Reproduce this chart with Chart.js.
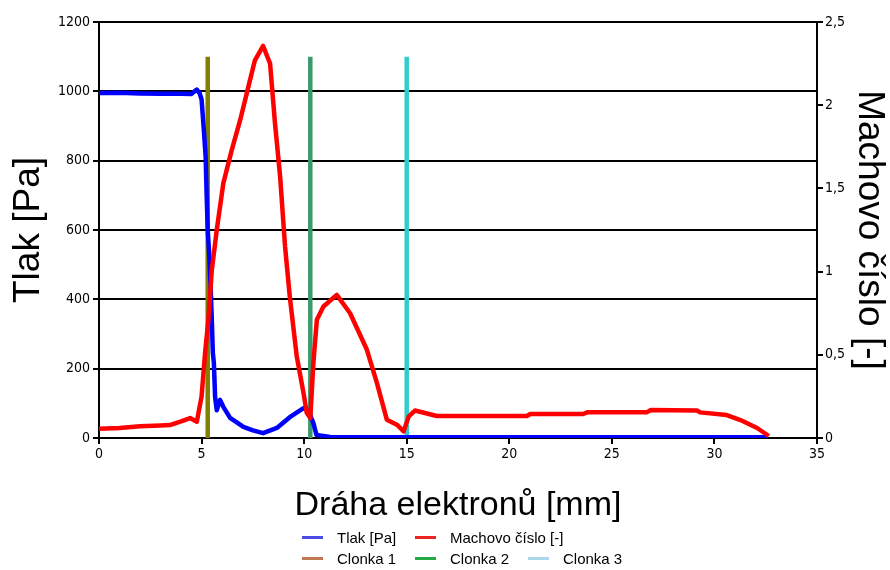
<!DOCTYPE html>
<html>
<head>
<meta charset="utf-8">
<script src="https://cdn.jsdelivr.net/npm/chart.js@4/dist/chart.umd.min.js"></script>
<style>
  body { margin: 0; background: #fff; }
  #wrap { position: relative; width: 890px; height: 570px; }
  #legend { position: absolute; left: 302px; top: 527px; font: 15px "Liberation Sans", Arial, sans-serif; color: #000; }
  #legend .row { display: flex; height: 21px; align-items: center; }
  #legend .item { display: flex; align-items: center; min-width: 113px; white-space: nowrap; }
  #legend .swatch { flex: 0 0 21px; height: 3px; margin-right: 14px; }
</style>
</head>
<body>
<div id="wrap">
  <canvas id="main" width="890" height="570"></canvas>
  <div id="legend"></div>
</div>
<script>
// pressure along the electron path [mm -> Pa]
const tlakX = [0, 1, 2, 3, 4, 4.5, 4.77, 4.9, 5.0, 5.1, 5.2, 5.25, 5.3, 5.38, 5.45, 5.5, 5.55, 5.6, 5.66, 5.74, 5.9, 6.06, 6.39, 7.04, 7.5, 8.0, 8.67, 9.3, 9.97, 10.2, 10.45, 10.6, 11.27, 15, 20, 25, 30, 32.6];
const tlakY = [995, 996, 994, 993, 993, 992, 1005, 995, 977, 897, 810, 695, 600, 522, 420, 340, 245, 216, 118, 80, 110, 90, 58, 32, 22, 14, 29, 60, 86, 80, 43, 9, 3, 2, 2, 2, 2, 2];

// Mach number along the same path
const machX = [0, 1, 2, 3, 3.46, 4.0, 4.44, 4.77, 5.0, 5.17, 5.33, 5.5, 5.74, 6.06, 6.47, 6.88, 7.28, 7.6, 8.0, 8.34, 8.58, 8.83, 9.07, 9.3, 9.64, 9.97, 10.13, 10.3, 10.45, 10.62, 10.94, 11.59, 12.24, 13.06, 13.55, 14.03, 14.52, 14.85, 15.1, 15.4, 16.47, 20.86, 21.02, 23.6, 23.8, 26.7, 26.9, 29.15, 29.3, 30.6, 31.27, 32.08, 32.65];
const machY = [0.055, 0.06, 0.07, 0.075, 0.078, 0.1, 0.12, 0.098, 0.25, 0.51, 0.71, 1.01, 1.25, 1.53, 1.73, 1.91, 2.11, 2.27, 2.356, 2.25, 1.89, 1.57, 1.15, 0.85, 0.49, 0.27, 0.15, 0.12, 0.45, 0.71, 0.79, 0.86, 0.75, 0.53, 0.33, 0.11, 0.08, 0.04, 0.13, 0.165, 0.132, 0.132, 0.144, 0.144, 0.154, 0.154, 0.168, 0.165, 0.154, 0.138, 0.108, 0.06, 0.012];

// aperture positions [mm] and marker height [Pa]
const clonkaNames = ['Clonka 1', 'Clonka 2', 'Clonka 3'];
const clonkaX = [5.3, 10.3, 15.0];
const clonkaTop = 1100;

const clonkaColors = ['#808000', '#3a9a6c', '#33cccc'];
const legendColors = ['#4b4be8', '#ee2424', '#c07850', '#22aa44', '#a8d8ea'];

const toPoints = (xs, ys) => xs.map((x, i) => ({ x, y: ys[i] }));

const datasets = [
  { label: 'Tlak [Pa]', data: toPoints(tlakX, tlakY), borderColor: '#0000ff', yAxisID: 'y', order: 1 },
  { label: 'Machovo číslo [-]', data: toPoints(machX, machY), borderColor: '#ff0000', yAxisID: 'y1', order: 0 },
];
clonkaNames.forEach((name, i) => {
  datasets.push({
    label: name,
    data: [{ x: clonkaX[i], y: 0 }, { x: clonkaX[i], y: clonkaTop }],
    borderColor: clonkaColors[i],
    yAxisID: 'y',
    order: 2,
  });
});

const tickFont = { family: '"Liberation Sans Narrow", "DejaVu Sans Condensed", "Arial Narrow", sans-serif', size: 14 };
const titleFont = size => ({ family: '"Liberation Sans", Arial, sans-serif', size, lineHeight: 1.1 });

const chart = new Chart(document.getElementById('main'), {
  type: 'line',
  data: { datasets },
  options: {
    responsive: false,
    animation: false,
    devicePixelRatio: 1,
    layout: { padding: { top: 22, left: 0, right: 0, bottom: 0 } },
    elements: {
      line: { borderWidth: 4.5, tension: 0, borderCapStyle: 'butt', borderJoinStyle: 'round' },
      point: { radius: 0 },
    },
    plugins: { legend: { display: false }, tooltip: { enabled: false } },
    scales: {
      x: {
        type: 'linear',
        min: 0, max: 35,
        ticks: { stepSize: 5, color: '#000', font: tickFont, padding: 2, maxRotation: 0, callback: v => String(v) },
        grid: { drawOnChartArea: false, color: '#000', tickLength: 6, lineWidth: 2 },
        border: { color: '#000', width: 2 },
        title: { display: true, text: 'Dráha elektronů [mm]', color: '#000', font: titleFont(34), padding: { top: 4, bottom: 46 } },
        afterFit: s => { s.height = 132; },
      },
      y: {
        position: 'left',
        min: 0, max: 1200,
        ticks: { stepSize: 200, color: '#000', font: tickFont, padding: 3, callback: v => String(v) },
        grid: { color: '#000', lineWidth: 2, tickLength: 6 },
        border: { color: '#000', width: 2 },
        title: { display: true, text: 'Tlak [Pa]', color: '#000', font: titleFont(37), padding: { top: 8, bottom: 0 } },
        afterFit: s => { s.width = 99; },
      },
      y1: {
        position: 'right',
        min: 0, max: 2.5,
        ticks: { stepSize: 0.5, color: '#000', font: tickFont, padding: 2,
          callback: v => String(v).replace('.', ',') },
        grid: { drawOnChartArea: false, color: '#000', lineWidth: 2, tickLength: 6 },
        border: { color: '#000', width: 2 },
        title: { display: true, text: 'Machovo číslo [-]', color: '#000', font: titleFont(37), padding: { top: 0, bottom: 0 } },
        afterFit: s => { s.width = 73; },
      },
    },
  },
});

// two-row legend below the plot, built from the dataset labels
const legendEl = document.getElementById('legend');
const rows = [[0, 1], [2, 3, 4]];
rows.forEach(idx => {
  const row = document.createElement('div');
  row.className = 'row';
  idx.forEach(i => {
    const item = document.createElement('div');
    item.className = 'item';
    const sw = document.createElement('span');
    sw.className = 'swatch';
    sw.style.background = legendColors[i];
    const txt = document.createElement('span');
    txt.textContent = chart.data.datasets[i].label;
    item.appendChild(sw);
    item.appendChild(txt);
    row.appendChild(item);
  });
  legendEl.appendChild(row);
});
</script>
</body>
</html>
